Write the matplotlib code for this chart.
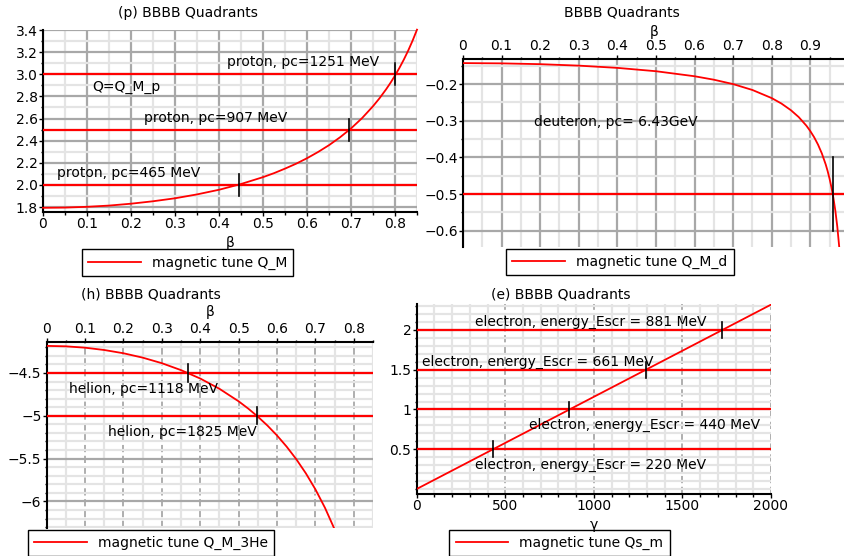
import matplotlib
matplotlib.use("Agg")
import matplotlib.pyplot as plt
from matplotlib.ticker import MultipleLocator, FixedLocator, FuncFormatter

# ---- data ----
# (p) proton, magnetic tune vs beta
beta_p = [0, 0.05, 0.1, 0.15, 0.2, 0.25, 0.3, 0.35, 0.4, 0.45, 0.5, 0.525,
          0.55, 0.575, 0.6, 0.625, 0.65, 0.675, 0.7, 0.725, 0.75, 0.765,
          0.78, 0.79, 0.8, 0.81, 0.82, 0.83, 0.84, 0.85]
q_p = [1.793, 1.795, 1.802, 1.813, 1.830, 1.852, 1.879, 1.914, 1.956, 2.008,
       2.070, 2.106, 2.147, 2.191, 2.241, 2.297, 2.359, 2.430, 2.510, 2.603,
       2.711, 2.784, 2.865, 2.924, 2.988, 3.057, 3.132, 3.214, 3.304, 3.403]
levels_p = [2.0, 2.5, 3.0]
cross_p = [0.445, 0.695, 0.80]
labels_p = ["proton, pc=465 MeV", "proton, pc=907 MeV", "proton, pc=1251 MeV"]
label_pos_p = [(0.032, 2.104), (0.23, 2.604), (0.419, 3.11)]

# deuteron
beta_d = [0, 0.1, 0.2, 0.3, 0.4, 0.5, 0.6, 0.65, 0.7, 0.75, 0.8, 0.825,
          0.85, 0.87, 0.89, 0.9, 0.91, 0.92, 0.93, 0.94, 0.945, 0.95, 0.955,
          0.96, 0.965, 0.97, 0.975]
q_d = [-0.1430, -0.1437, -0.1459, -0.1499, -0.1560, -0.1651, -0.1788, -0.1882,
       -0.2002, -0.2162, -0.2383, -0.2530, -0.2715, -0.2900, -0.3136, -0.3281,
       -0.3449, -0.3649, -0.3891, -0.4191, -0.4372, -0.4580, -0.4821, -0.5107,
       -0.5453, -0.5882, -0.6436]
levels_d = [-0.5]
cross_d = [0.959]

# (h) helion
beta_h = [0, 0.05, 0.1, 0.15, 0.2, 0.25, 0.3, 0.35, 0.4, 0.45, 0.5, 0.525,
          0.55, 0.575, 0.6, 0.625, 0.65, 0.675, 0.7, 0.725, 0.75]
q_h = [-4.184, -4.189, -4.205, -4.232, -4.270, -4.321, -4.386, -4.467, -4.565,
       -4.685, -4.831, -4.916, -5.010, -5.114, -5.230, -5.360, -5.506, -5.671,
       -5.859, -6.075, -6.326]
levels_h = [-4.5, -5.0]
cross_h = [0.368, 0.547]
labels_h = ["helion, pc=1118 MeV", "helion, pc=1825 MeV"]
label_pos_h = [(0.059, -4.686), (0.16, -5.193)]

# (e) electron, spin tune vs gamma
gamma_e = [0, 2000]
q_e = [0.0, 2.319]
levels_e = [0.5, 1.0, 1.5, 2.0]
cross_e = [431, 862, 1293, 1725]
labels_e = ["electron, energy_Escr = 220 MeV", "electron, energy_Escr = 440 MeV",
            "electron, energy_Escr = 661 MeV", "electron, energy_Escr = 881 MeV"]
label_pos_e = [(329, 0.30), (634, 0.80), (28, 1.60), (329, 2.10)]

W, H = 845, 556
FS = 10
RED = "#ff0000"
MAJ = "#a8a8a8"
MIN = "#e4e4e4"

plt.rcParams["font.family"] = "DejaVu Sans"
plt.rcParams["axes.unicode_minus"] = True

fig = plt.figure(figsize=(W / 100, H / 100), dpi=100)


def px_axes(l, t, r, b):
    return fig.add_axes([l / W, 1 - b / H, (r - l) / W, (b - t) / H])


def fmt_g(v, pos):
    s = "%g" % round(v, 6)
    return s.replace("-", "\u2212")


def style(ax, top=False, vdash=False):
    for s in ax.spines.values():
        s.set_visible(False)
    ax.spines["left"].set_visible(True)
    xs = "top" if top else "bottom"
    ax.spines[xs].set_visible(True)
    for s in ("left", xs):
        ax.spines[s].set_linewidth(1.5)
    if top:
        ax.xaxis.tick_top()
    ax.tick_params(which="major", direction="out", length=3, width=1,
                   labelsize=FS, pad=0.8)
    ax.tick_params(which="minor", direction="out", length=1.8, width=1)
    ax.set_axisbelow(True)
    ax.grid(which="minor", color=MIN, lw=1.6)
    ax.grid(which="major", axis="y", color=MAJ, lw=1.6)
    if vdash:
        ax.grid(which="major", axis="x", color=MAJ, lw=1.3, ls=(0, (4, 2)))
    else:
        ax.grid(which="major", axis="x", color=MAJ, lw=1.6)
    ax.xaxis.set_major_formatter(FuncFormatter(fmt_g))
    ax.set_facecolor("white")


def legend(ax, line, text, cx, cy):
    lg = ax.legend([line], [text], loc="center",
                   bbox_to_anchor=(cx / W, 1 - cy / H),
                   bbox_transform=fig.transFigure, fontsize=FS,
                   fancybox=False, edgecolor="black", framealpha=1,
                   handlelength=3.8, borderpad=0.45, handletextpad=0.8)
    lg.get_frame().set_linewidth(1.0)


def markers(ax, xs, ys, h):
    for x, y in zip(xs, ys):
        ax.plot([x, x], [y - h, y + h], color="black", lw=1.2, zorder=5)


# ---- panel (p) ----
ax1 = px_axes(43, 30, 417, 212)
ax1.set_xlim(0, 0.85)
ax1.set_ylim(1.755, 3.4)
style(ax1)
ax1.xaxis.set_major_locator(MultipleLocator(0.1))
ax1.xaxis.set_minor_locator(MultipleLocator(0.05))
ax1.yaxis.set_major_locator(MultipleLocator(0.2))
ax1.yaxis.set_minor_locator(MultipleLocator(0.1))
ax1.yaxis.set_major_formatter(FuncFormatter(lambda v, p: "%.1f" % v))
for lv in levels_p:
    ax1.axhline(lv, color=RED, lw=1.6, zorder=3)
ln1, = ax1.plot(beta_p, q_p, color=RED, lw=1.3, zorder=4, clip_on=False)
markers(ax1, cross_p, levels_p, 0.1)
for t, (x, y) in zip(labels_p, label_pos_p):
    ax1.text(x, y, t, fontsize=FS, ha="left", va="center", zorder=6)
ax1.text(0.113, 2.885, "Q=Q_M_p", fontsize=FS, ha="left", va="center")
legend(ax1, ln1, "magnetic tune Q_M", 187.5, 262.5)
fig.text(188 / W, 1 - 13 / H, "(p) BBBB Quadrants", fontsize=FS,
         ha="center", va="center")
fig.text(230 / W, 1 - 243 / H, "\u03b2", fontsize=FS, ha="center", va="center")

# ---- panel deuteron ----
ax2 = px_axes(463, 58.7, 845, 247)
ax2.set_xlim(0, 0.99)
ax2.set_ylim(-0.644, -0.131)
style(ax2, top=True)
ax2.xaxis.set_major_locator(MultipleLocator(0.1))
ax2.xaxis.set_minor_locator(MultipleLocator(0.05))
ax2.yaxis.set_major_locator(MultipleLocator(0.1))
ax2.yaxis.set_minor_locator(MultipleLocator(0.05))
ax2.yaxis.set_major_formatter(FuncFormatter(fmt_g))
for lv in levels_d:
    ax2.axhline(lv, color=RED, lw=1.6, zorder=3)
ln2, = ax2.plot(beta_d, q_d, color=RED, lw=1.3, zorder=4)
ax2.plot([cross_d[0], cross_d[0]], [-0.4, -0.6], color="black", lw=1.2, zorder=5)
ax2.text(0.185, -0.304, "deuteron, pc= 6.43GeV", fontsize=FS, ha="left",
         va="center")
legend(ax2, ln2, "magnetic tune Q_M_d", 620, 262)
fig.text(622 / W, 1 - 13 / H, "BBBB Quadrants", fontsize=FS,
         ha="center", va="center")
fig.text(654 / W, 1 - 32 / H, "\u03b2", fontsize=FS, ha="center", va="center")

# ---- panel (h) ----
ax3 = px_axes(46.7, 341.7, 373, 528)
ax3.set_xlim(0, 0.85)
ax3.set_ylim(-6.31, -4.135)
style(ax3, top=True, vdash=True)
ax3.xaxis.set_major_locator(MultipleLocator(0.1))
ax3.xaxis.set_minor_locator(MultipleLocator(0.05))
ax3.yaxis.set_major_locator(MultipleLocator(0.5))
ax3.yaxis.set_minor_locator(MultipleLocator(0.1))
ax3.yaxis.set_major_formatter(FuncFormatter(fmt_g))
for lv in levels_h:
    ax3.axhline(lv, color=RED, lw=1.6, zorder=3)
ln3, = ax3.plot(beta_h, q_h, color=RED, lw=1.3, zorder=4)
markers(ax3, cross_h, levels_h, 0.1)
for t, (x, y) in zip(labels_h, label_pos_h):
    ax3.text(x, y, t, fontsize=FS, ha="left", va="center", zorder=6)
legend(ax3, ln3, "magnetic tune Q_M_3He", 151, 543)
fig.text(151 / W, 1 - 295 / H, "(h) BBBB Quadrants", fontsize=FS,
         ha="center", va="center")
fig.text(210 / W, 1 - 312 / H, "\u03b2", fontsize=FS, ha="center", va="center")

# ---- panel (e) ----
ax4 = px_axes(416.7, 304, 771, 494)
ax4.set_xlim(0, 2000)
ax4.set_ylim(-0.063, 2.327)
style(ax4, vdash=True)
ax4.xaxis.set_major_locator(MultipleLocator(500))
ax4.xaxis.set_minor_locator(MultipleLocator(100))
ax4.yaxis.set_major_locator(FixedLocator([0.5, 1.0, 1.5, 2.0]))
ax4.yaxis.set_minor_locator(MultipleLocator(0.1))
ax4.yaxis.set_major_formatter(FuncFormatter(fmt_g))
for lv in levels_e:
    ax4.axhline(lv, color=RED, lw=1.6, zorder=3)
ln4, = ax4.plot(gamma_e, q_e, color=RED, lw=1.3, zorder=4)
markers(ax4, cross_e, levels_e, 0.1)
for t, (x, y) in zip(labels_e, label_pos_e):
    ax4.text(x, y, t, fontsize=FS, ha="left", va="center", zorder=6)
legend(ax4, ln4, "magnetic tune Qs_m", 559.5, 543)
fig.text(561 / W, 1 - 295 / H, "(e) BBBB Quadrants", fontsize=FS,
         ha="center", va="center")
fig.text(594 / W, 1 - 525 / H, "\u03b3", fontsize=FS, ha="center", va="center")

fig.savefig("out.png", dpi=100)
